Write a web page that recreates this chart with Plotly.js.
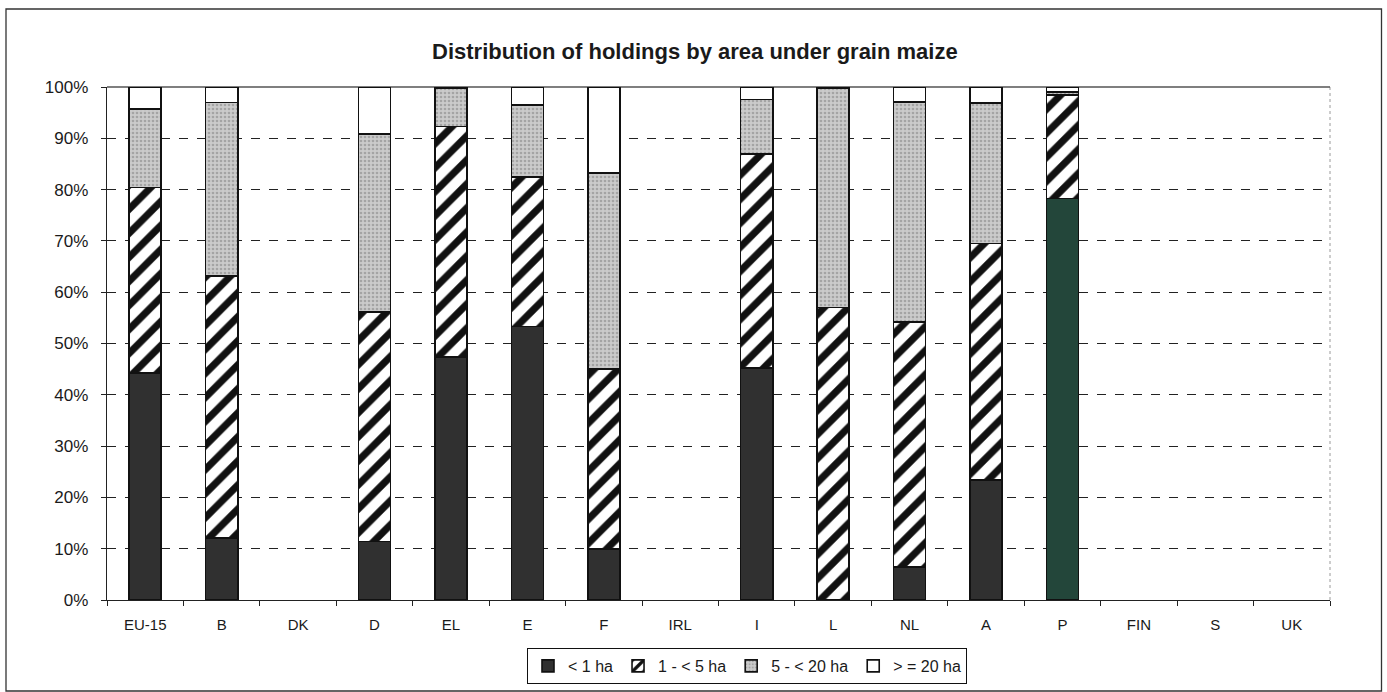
<!DOCTYPE html>
<html>
<head>
<meta charset="utf-8">
<script src="https://cdn.plot.ly/plotly-3.0.1.min.js"></script>
<style>
  html, body { margin: 0; padding: 0; background: #ffffff; }
  #chart { width: 1387px; height: 692px; }
</style>
</head>
<body>
<div id="chart"></div>
<script>
// ---- Data (percent of holdings) ----
const countries = ["EU-15", "B", "DK", "D", "EL", "E", "F", "IRL", "I", "L", "NL", "A", "P", "FIN", "S", "UK"];
const seriesNames = ["< 1 ha", "1 - < 5 ha", "5 - < 20 ha", "> = 20 ha"];
const lessThan1 = [44.3, 12.1, null, 11.4, 47.4, 53.3, 9.9, null, 45.2, null, 6.4, 23.4, 78.3, null, null, null];
const from1to5 = [36.1, 51.1, null, 44.7, 44.9, 29.1, 35.1, null, 41.7, 57.0, 47.8, 46.1, 20.1, null, null, null];
const from5to20 = [15.3, 33.8, null, 34.7, 7.5, 14.1, 38.2, null, 10.7, 42.8, 42.9, 27.4, 0.6, null, null, null];
const atLeast20 = [4.3, 3.0, null, 9.2, 0.2, 3.5, 16.8, null, 2.4, 0.2, 2.9, 3.1, 1.0, null, null, null];
const yTicks = [0, 10, 20, 30, 40, 50, 60, 70, 80, 90, 100];

const FONT = "Liberation Sans, Arial, Helvetica, sans-serif";
const outline = { color: "#111111", width: 1.6 };

// Plot area geometry (pixels) used for paper-relative frame
const L = 107, R = 1330, T = 87, B = 600, W = 1387, H = 692;
const pw = R - L, ph = B - T;
const px = v => (v - L) / pw;
const py = v => (B - v) / ph;
const cx = v => v / W;
const cy = v => 1 - v / H;

const darkColors = countries.map(c => c === "P" ? "#23463a" : "#303030");

const traces = [
  {
    type: "bar", name: seriesNames[0], x: countries, y: lessThan1,
    marker: { color: darkColors, line: outline }
  },
  {
    type: "bar", name: seriesNames[1], x: countries, y: from1to5,
    marker: {
      color: "#ffffff", line: outline,
      pattern: { shape: "/", fgcolor: "#111111", bgcolor: "#ffffff", size: 17, solidity: 0.42 }
    }
  },
  {
    type: "bar", name: seriesNames[2], x: countries, y: from5to20,
    marker: {
      color: "#c6c6c6", line: outline,
      pattern: { shape: ".", fgcolor: "#a4a4a4", bgcolor: "#cbcbcb", size: 4, solidity: 0.35 }
    }
  },
  {
    type: "bar", name: seriesNames[3], x: countries, y: atLeast20,
    marker: { color: "#ffffff", line: outline }
  }
];

const layout = {
  width: W, height: H,
  margin: { l: L, r: W - R, t: T, b: H - B, pad: 0, autoexpand: false },
  paper_bgcolor: "#ffffff",
  plot_bgcolor: "#ffffff",
  barmode: "stack",
  bargap: 0.58,
  font: { family: FONT, color: "#1a1a1a", size: 15 },
  title: {
    text: "<b>Distribution of holdings by area under grain maize</b>",
    font: { family: FONT, size: 22, color: "#1a1a1a" },
    x: 0.501, xref: "container", xanchor: "center",
    y: cy(51), yref: "container", yanchor: "middle"
  },
  xaxis: {
    type: "category",
    automargin: false,
    tickson: "boundaries",
    ticks: "outside", ticklen: 5, tickcolor: "#222222", tickwidth: 1,
    showline: true, linecolor: "#222222", linewidth: 1.3,
    showgrid: false,
    tickfont: { family: FONT, size: 15, color: "#1a1a1a" },
    ticklabelstandoff: 11,
    fixedrange: true
  },
  yaxis: {
    automargin: false,
    range: [0, 100],
    tickvals: yTicks,
    ticktext: yTicks.map(v => v + "%"),
    ticks: "outside", ticklen: 5, tickcolor: "#222222", tickwidth: 1,
    showline: true, linecolor: "#222222", linewidth: 1.3,
    showgrid: true, gridcolor: "#222222", gridwidth: 1, griddash: "dash",
    zeroline: false,
    tickfont: { family: FONT, size: 17, color: "#1a1a1a" },
    ticklabelstandoff: 9,
    fixedrange: true
  },
  legend: {
    orientation: "h",
    xref: "container", yref: "container",
    x: cx(747), xanchor: "center",
    y: cy(648), yanchor: "top",
    bordercolor: "#111111", borderwidth: 1,
    bgcolor: "#ffffff",
    font: { family: FONT, size: 16, color: "#1a1a1a" },
    traceorder: "normal",
    itemwidth: 30
  },
  shapes: [
    // outer chart frame
    {
      type: "rect", xref: "paper", yref: "paper", layer: "below",
      x0: px(6), x1: px(1381.5), y0: py(691), y1: py(9),
      line: { color: "#333333", width: 1.3 }, fillcolor: "rgba(0,0,0,0)"
    },
    // plot-area border (right side dotted grey)
    {
      type: "line", xref: "paper", yref: "paper", layer: "below",
      x0: 1, x1: 1, y0: 0, y1: 1,
      line: { color: "#9a9a9a", width: 1, dash: "dot" }
    },
    // plot-area top border
    {
      type: "line", xref: "paper", yref: "paper", layer: "below",
      x0: 0, x1: 1, y0: 1, y1: 1,
      line: { color: "#555555", width: 1.3 }
    }
  ]
};

Plotly.newPlot("chart", traces, layout, { displayModeBar: false, staticPlot: true });
</script>
</body>
</html>
